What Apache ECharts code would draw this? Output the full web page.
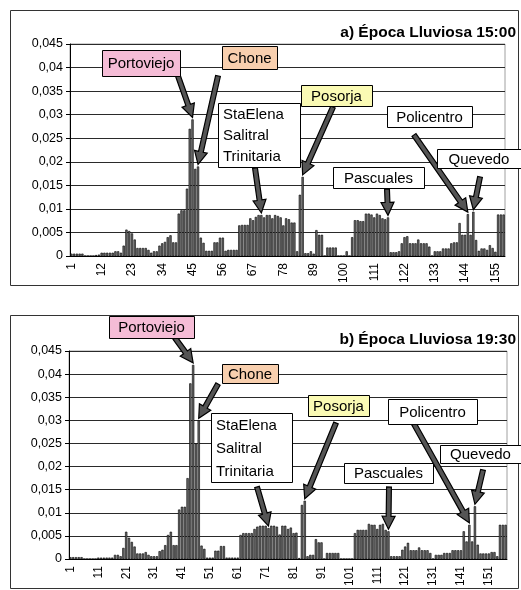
<!DOCTYPE html>
<html>
<head>
<meta charset="utf-8">
<script src="https://cdn.jsdelivr.net/npm/echarts@6/dist/echarts.min.js"></script>
<style>
  html, body { margin: 0; padding: 0; background: #fff; }
  #chart { width: 521px; height: 590px; }
</style>
</head>
<body>
<div id="chart"></div>
<script>
// valores leídos del gráfico a) 15:00 (158 celdas)
var valores1500 = [
  0.0005, 0.0005, 0.0005, 0.0005, 0.0005, 0, 0, 0, 0, 0.0002,
  0.0003, 0.0007, 0.0007, 0.0007, 0.0007, 0.0007, 0.001, 0.001, 0.0007, 0.0022,
  0.0056, 0.0053, 0.0048, 0.0035, 0.0017, 0.0017, 0.0017, 0.0017, 0.0013, 0.0007,
  0.001, 0.001, 0.0022, 0.0027, 0.003, 0.004, 0.0044, 0.0029, 0.0029, 0.009,
  0.0097, 0.0097, 0.0143, 0.027, 0.029, 0.0185, 0.019, 0.0039, 0.0028, 0.0011,
  0.0011, 0.0011, 0.0029, 0.0029, 0.0039, 0.0039, 0.0011, 0.0013, 0.0013, 0.0013,
  0.0013, 0.0065, 0.0066, 0.0066, 0.0066, 0.008, 0.0076, 0.0083, 0.0087, 0.0087,
  0.0082, 0.0087, 0.0087, 0.008, 0.0087, 0.0085, 0.0082, 0.0065, 0.008, 0.0078,
  0.0071, 0.0071, 0.001, 0.013, 0.0168, 0.0006, 0.0006, 0.001, 0.0005, 0.0055,
  0.0045, 0.0045, 0, 0.0018, 0.0018, 0.0018, 0.0018, 0, 0, 0,
  0.001, 0, 0.004, 0.0076, 0.0076, 0.0074, 0.0074, 0.009, 0.009, 0.0088,
  0.0082, 0.009, 0.0087, 0.008, 0.0078, 0.0082, 0.0008, 0.0008, 0.0008, 0.001,
  0.0027, 0.004, 0.0042, 0.0027, 0.0027, 0.0027, 0.0035, 0.0027, 0.0027, 0.0027,
  0.002, 0, 0.001, 0.001, 0.001, 0.0016, 0.0016, 0.0016, 0.0027, 0.0029,
  0.0029, 0.007, 0.0045, 0.0045, 0.0089, 0.0045, 0.0094, 0.0034, 0.0011, 0.0016,
  0.0016, 0.0013, 0.0023, 0.0017, 0.0009, 0.0088, 0.0088, 0.0088
];
// valores leídos del gráfico b) 19:30 (157 celdas)
var valores1930 = [
  0.0004, 0.0004, 0.0004, 0.0004, 0.0004, 0, 0, 0, 0, 0,
  0.0003, 0.0003, 0.0003, 0.0003, 0.0003, 0.0003, 0.0009, 0.0009, 0.0006, 0.0024,
  0.0059, 0.0046, 0.0037, 0.0027, 0.0012, 0.0012, 0.0012, 0.0015, 0.0009, 0.0006,
  0.0006, 0.0006, 0.0017, 0.002, 0.003, 0.0052, 0.0059, 0.003, 0.003, 0.0107,
  0.0113, 0.0113, 0.0175, 0.038, 0.042, 0.025, 0.030, 0.0029, 0.0022, 0.0003,
  0.0003, 0.0003, 0.0018, 0.0018, 0.0028, 0.0028, 0.0003, 0.0003, 0.0003, 0.0003,
  0.0003, 0.0052, 0.0056, 0.0056, 0.0056, 0.0056, 0.0065, 0.007, 0.0072, 0.0072,
  0.0072, 0.0067, 0.0072, 0.0072, 0.007, 0.0053, 0.0072, 0.0072, 0.0065, 0.0068,
  0.0056, 0.0057, 0.0002, 0.0117, 0.0126, 0.0006, 0.0009, 0.0009, 0.0043, 0.0036,
  0.0036, 0, 0.0013, 0.0013, 0.0013, 0.0013, 0.0013, 0, 0, 0,
  0, 0, 0.0056, 0.0063, 0.0063, 0.0063, 0.0063, 0.0076, 0.0074, 0.0074,
  0.0065, 0.0074, 0.0076, 0.0063, 0.006, 0.0006, 0.0006, 0.0006, 0.0006, 0.002,
  0.0027, 0.0035, 0.0019, 0.0019, 0.0019, 0.0025, 0.0019, 0.0019, 0.0019, 0.0013,
  0, 0.0009, 0.0009, 0.0009, 0.0013, 0.0013, 0.0013, 0.0019, 0.0019, 0.0019,
  0.0019, 0.006, 0.0038, 0.0074, 0.0038, 0.0114, 0.0031, 0.0012, 0.0012, 0.0012,
  0.0012, 0.0015, 0.0015, 0.0006, 0.0074, 0.0074, 0.0074
];
var celdas1500 = valores1500.map(function (v, i) { return String(i + 1); });
var celdas1930 = valores1930.map(function (v, i) { return String(i + 1); });
var titulos = ['a) Época Lluviosa 15:00', 'b) Época Lluviosa 19:30'];

// etiquetas: [texto, caja x,y,w,h, relleno, cola de flecha x,y, celda apuntada (1..N)]
var etiquetas1500 = [
  [['Portoviejo'], 102, 50, 78, 26, '#f5bcd6', 178, 76, 45],
  [['Chone'], 222, 46, 55, 23, '#f8cfae', 218, 76, 47],
  [['StaElena', 'Salitral', 'Trinitaria'], 218, 103, 82, 64, '#fff', 255, 168, 70],
  [['Posorja'], 301, 85, 71, 21, '#fafab4', 333, 107, 85],
  [['Pascuales'], 333, 167, 91, 21, '#fff', 387, 189, 116],
  [['Policentro'], 387, 106, 85, 21, '#fff', 414, 135, 145],
  [['Quevedo'], 437, 149, 84, 19, '#fff', 480, 177, 147]
];
var etiquetas1930 = [
  [['Portoviejo'], 109, 316, 85, 22, '#f5bcd6', 175, 338, 45],
  [['Chone'], 222, 364, 56, 19, '#f8cfae', 218, 384, 47],
  [['StaElena', 'Salitral', 'Trinitaria'], 211, 413, 81, 69, '#fff', 257, 487, 72],
  [['Posorja'], 308, 395, 61, 21, '#fafab4', 336, 423, 85],
  [['Pascuales'], 344, 463, 89, 20, '#fff', 389, 487, 115],
  [['Policentro'], 388, 399, 89, 25, '#fff', 414, 424, 144],
  [['Quevedo'], 440, 445, 81, 18, '#fff', 483, 470, 146]
];

var fuente = '"Liberation Sans", Arial, sans-serif';
var chart = echarts.init(document.getElementById('chart'));

function ejeX(idx, datos, salto) {
  return {
    type: 'category', gridIndex: idx, data: datos,
    axisLine: { lineStyle: { color: '#000', width: 1 } },
    axisTick: { interval: 0, length: 4, lineStyle: { color: '#000' } },
    axisLabel: { interval: salto, rotate: 90, margin: 7, fontSize: 12, color: '#000', fontFamily: fuente }
  };
}
function ejeY(idx) {
  return {
    type: 'value', gridIndex: idx, min: 0, max: 0.045, interval: 0.005,
    axisLine: { show: true, lineStyle: { color: '#000' } },
    axisTick: { show: true, length: 4, lineStyle: { color: '#000' } },
    splitLine: { lineStyle: { color: '#2a2a2a', width: 1 } },
    axisLabel: {
      margin: 7, fontSize: 12.5, color: '#000', fontFamily: fuente,
      formatter: function (v) { return v === 0 ? '0' : String(+v.toFixed(3)).replace('.', ','); }
    }
  };
}
function serie(idx, datos) {
  return {
    type: 'bar', xAxisIndex: idx, yAxisIndex: idx, data: datos,
    barCategoryGap: '18%', silent: true,
    itemStyle: { color: '#6a6a6a', borderColor: '#000', borderWidth: 0.6 }
  };
}

chart.setOption({
  animation: false,
  grid: [
    { left: 70, right: 16, top: 44, height: 212, show: true, borderColor: '#a0a0a0', borderWidth: 1 },
    { left: 69, right: 14, top: 351, height: 208, show: true, borderColor: '#a0a0a0', borderWidth: 1 }
  ],
  xAxis: [ejeX(0, celdas1500, 10), ejeX(1, celdas1930, 9)],
  yAxis: [ejeY(0), ejeY(1)],
  series: [serie(0, valores1500), serie(1, valores1930)]
});

function flecha(x1, y1, x2, y2) {
  var dx = x2 - x1, dy = y2 - y1, L = Math.sqrt(dx * dx + dy * dy);
  var ux = dx / L, uy = dy / L, nx = -uy, ny = ux;
  var h = 13, w = 6.5, s = 2.4;
  var bx = x2 - ux * h, by = y2 - uy * h;
  return {
    type: 'polygon', z: 20,
    shape: { points: [
      [x1 + nx * s, y1 + ny * s], [bx + nx * s, by + ny * s], [bx + nx * w, by + ny * w],
      [x2, y2], [bx - nx * w, by - ny * w], [bx - nx * s, by - ny * s], [x1 - nx * s, y1 - ny * s]
    ] },
    style: { fill: '#555', stroke: '#000', lineWidth: 1.2 }
  };
}

function anotaciones(lista, gridIdx, valores) {
  var out = [];
  lista.forEach(function (e) {
    var lineas = e[0], x = e[1], y = e[2], w = e[3], h = e[4];
    var p = chart.convertToPixel({ gridIndex: gridIdx }, [e[8] - 1, valores[e[8] - 1]]);
    out.push(flecha(e[6], e[7], p[0], p[1] - 2));
    out.push({
      type: 'rect', z: 25, shape: { x: x + 0.5, y: y + 0.5, width: w, height: h },
      style: { fill: e[5], stroke: '#000', lineWidth: 1 }
    });
    var paso = h / lineas.length;
    lineas.forEach(function (t, k) {
      out.push({
        type: 'text', z: 26, x: lineas.length > 1 ? x + 5 : x + w / 2, y: y + paso * (k + 0.5) + 1,
        style: { text: t, font: '15px ' + fuente, fill: '#000',
          textAlign: lineas.length > 1 ? 'left' : 'center', textVerticalAlign: 'middle' }
      });
    });
  });
  return out;
}

var graficos = [
  { type: 'rect', z: -1, shape: { x: 10.5, y: 10.5, width: 508, height: 275 }, style: { fill: 'none', stroke: '#333', lineWidth: 1 } },
  { type: 'rect', z: -1, shape: { x: 10.5, y: 315.5, width: 508, height: 273 }, style: { fill: 'none', stroke: '#333', lineWidth: 1 } },
  { type: 'text', z: 30, x: 516, y: 33, style: { text: titulos[0], font: 'bold 15.5px ' + fuente, fill: '#000', textAlign: 'right', textVerticalAlign: 'middle' } },
  { type: 'text', z: 30, x: 516, y: 340, style: { text: titulos[1], font: 'bold 15.5px ' + fuente, fill: '#000', textAlign: 'right', textVerticalAlign: 'middle' } }
].concat(anotaciones(etiquetas1500, 0, valores1500), anotaciones(etiquetas1930, 1, valores1930));

chart.setOption({ graphic: graficos });
</script>
</body>
</html>
